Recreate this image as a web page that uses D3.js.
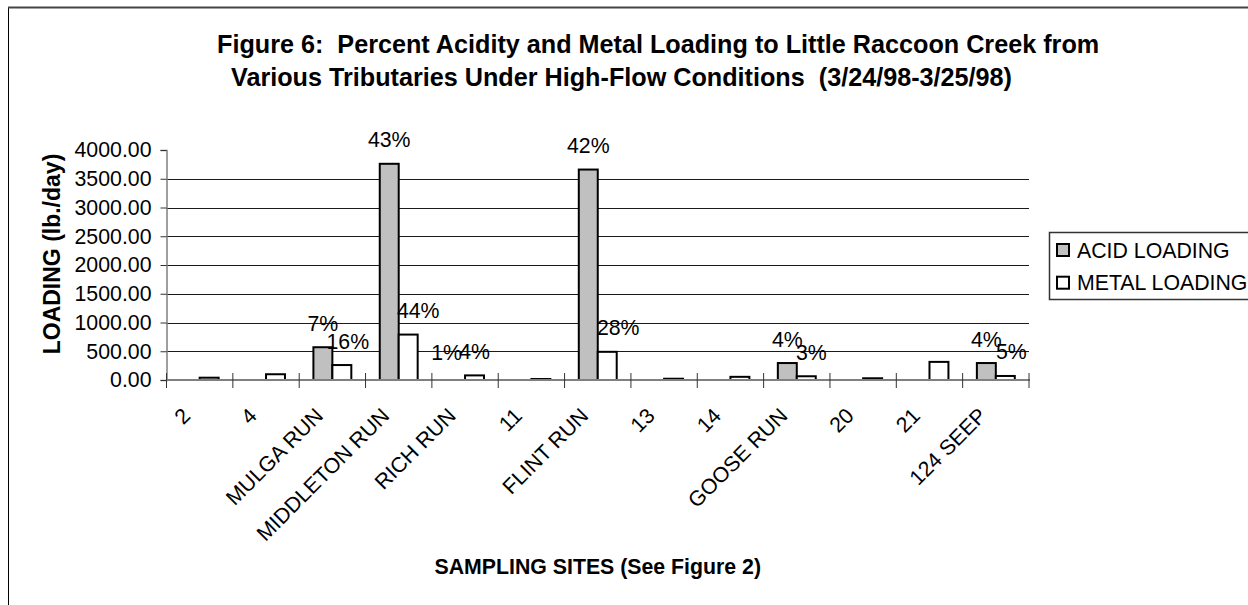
<!DOCTYPE html>
<html>
<head>
<meta charset="utf-8">
<script src="https://cdn.jsdelivr.net/npm/d3@7"></script>
<style>
  html, body { margin: 0; padding: 0; background: #fff; }
  svg { display: block; font-family: "Liberation Sans", Arial, Helvetica, sans-serif; }
  text { white-space: pre; }
</style>
</head>
<body>
<svg id="chart" width="1248" height="605"></svg>
<script>
// Sampling sites along Little Raccoon Creek
const sites = ["2", "4", "MULGA RUN", "MIDDLETON RUN", "RICH RUN", "11", "FLINT RUN",
               "13", "14", "GOOSE RUN", "20", "21", "124 SEEP"];

// Loading in lb./day for each site
const acidLoading  = [0, 0, 570, 3760, 0, 0, 3660, 0, 0, 295, 0, 0, 295];
const metalLoading = [40, 100, 260, 790, 80, 17, 490, 22, 55, 65, 30, 315, 70];

// Percent of total loading, printed above the bars (null = no label)
const acidPercent  = [null, null, "7%", "43%", "1%", null, "42%", null, null, "4%", null, null, "4%"];
const metalPercent = [null, null, "16%", "44%", "4%", null, "28%", null, null, "3%", null, null, "5%"];

const seriesNames = ["ACID LOADING", "METAL LOADING"];
const yTicks = [0, 500, 1000, 1500, 2000, 2500, 3000, 3500, 4000];

const titleLines = [
  "Figure 6:  Percent Acidity and Metal Loading to Little Raccoon Creek from",
  "Various Tributaries Under High-Flow Conditions  (3/24/98-3/25/98)"
];
const yTitle = "LOADING (lb./day)";
const xTitle = "SAMPLING SITES (See Figure 2)";

// ---- layout ----
const plot = { left: 166.5, right: 1029, top: 150, bottom: 380 };
const fills = { acid: "#c0c0c0", metal: "#ffffff" };
const series = ["acid", "metal"];
const fontSize = 21.3;
// hand-placed horizontal shifts of some percent labels (px)
const labelShift = { "MULGA RUN|metal": 6, "MIDDLETON RUN|metal": 10, "RICH RUN|acid": -9,
                     "FLINT RUN|metal": 11, "GOOSE RUN|metal": 5, "124 SEEP|metal": 6 };

const svg = d3.select("#chart");

// chart area frame
svg.append("rect")
  .attr("x", 8.5).attr("y", 7.5)
  .attr("width", 1400).attr("height", 800)
  .attr("fill", "#fff").attr("stroke", "#000").attr("stroke-width", 1);
svg.append("line")
  .attr("x1", 8).attr("x2", 1248).attr("y1", 7.5).attr("y2", 7.5)
  .attr("stroke", "#444").attr("stroke-width", 2);

// title
const titleX = [217, 231];
const titleY = [53, 86];
titleLines.forEach((t, i) => {
  svg.append("text")
    .attr("x", titleX[i]).attr("y", titleY[i])
    .attr("font-size", 25.2).attr("font-weight", "bold")
    .attr("fill", "#000")
    .text(t);
});

const x = d3.scaleBand().domain(sites).range([plot.left, plot.right]).paddingInner(0).paddingOuter(0);
const xs = d3.scaleBand().domain(series).range([0, x.bandwidth()]).paddingInner(0).paddingOuter(0.75);
const y = d3.scaleLinear().domain([0, 4000]).range([plot.bottom, plot.top]);

// horizontal gridlines
svg.append("g")
  .selectAll("line")
  .data(yTicks.filter(v => v > 0 && v < 4000))
  .join("line")
  .attr("x1", plot.left).attr("x2", plot.right)
  .attr("y1", d => Math.round(y(d)) + 0.5).attr("y2", d => Math.round(y(d)) + 0.5)
  .attr("stroke", "#1a1a1a").attr("stroke-width", 1);

// y axis
const yAxis = svg.append("g")
  .attr("transform", `translate(${plot.left},0)`)
  .call(d3.axisLeft(y).tickValues(yTicks).tickFormat(d3.format(".2f")).tickSize(6).tickPadding(9));
yAxis.select(".domain").attr("stroke", "#808080").attr("stroke-width", 1.5);
yAxis.selectAll(".tick line").attr("stroke", "#333");
yAxis.selectAll(".tick text")
  .attr("font-size", fontSize).attr("font-family", "Liberation Sans, Arial, sans-serif").attr("fill", "#000");

// bars
const rows = sites.map((s, i) => ({ site: s, acid: acidLoading[i], metal: metalLoading[i],
                                    acidPct: acidPercent[i], metalPct: metalPercent[i] }));
const barData = [];
rows.forEach(r => series.forEach(k => {
  if (r[k] > 0) barData.push({ site: r.site, key: k, value: r[k] });
}));

svg.append("g")
  .selectAll("rect")
  .data(barData)
  .join("rect")
  .attr("x", d => x(d.site) + xs(d.key))
  .attr("width", xs.bandwidth())
  .attr("y", d => y(d.value))
  .attr("height", d => y(0) - y(d.value))
  .attr("fill", d => fills[d.key])
  .attr("stroke", "#000")
  .attr("stroke-width", 2);

// x axis line and cross ticks
svg.append("line")
  .attr("x1", plot.left).attr("x2", plot.right + 1)
  .attr("y1", y(0)).attr("y2", y(0))
  .attr("stroke", "#808080").attr("stroke-width", 2);
svg.append("g")
  .selectAll("line")
  .data(d3.range(sites.length + 1))
  .join("line")
  .attr("x1", i => plot.left + i * x.step()).attr("x2", i => plot.left + i * x.step())
  .attr("y1", y(0) - 7).attr("y2", y(0) + 8)
  .attr("stroke", "#333").attr("stroke-width", 1);

// rotated category labels
svg.append("g")
  .selectAll("text")
  .data(sites)
  .join("text")
  .attr("transform", d => `translate(${x(d) + x.bandwidth() / 2 - 8},${y(0) + 37}) rotate(-45)`)
  .attr("text-anchor", "end")
  .attr("font-size", fontSize)
  .attr("fill", "#000")
  .text(d => d);

// percent labels above bars
const pctData = [];
rows.forEach(r => {
  if (r.acidPct) pctData.push({ site: r.site, key: "acid", value: r.acid, label: r.acidPct });
  if (r.metalPct) pctData.push({ site: r.site, key: "metal", value: r.metal, label: r.metalPct });
});
svg.append("g")
  .selectAll("text")
  .data(pctData)
  .join("text")
  .attr("x", d => x(d.site) + xs(d.key) + xs.bandwidth() / 2 + (labelShift[d.site + "|" + d.key] || 0))
  .attr("y", d => Math.min(y(d.value) - 16.5, 360))
  .attr("text-anchor", "middle")
  .attr("font-size", fontSize)
  .attr("fill", "#000")
  .text(d => d.label);

// axis titles
svg.append("text")
  .attr("transform", `translate(60,254) rotate(-90)`)
  .attr("text-anchor", "middle")
  .attr("font-size", 23).attr("font-weight", "bold")
  .text(yTitle);
svg.append("text")
  .attr("x", (plot.left + plot.right) / 2).attr("y", 574)
  .attr("text-anchor", "middle")
  .attr("font-size", 21.3).attr("font-weight", "bold")
  .text(xTitle);

// legend
const legend = svg.append("g");
legend.append("rect")
  .attr("x", 1049.5).attr("y", 232.5).attr("width", 300).attr("height", 67)
  .attr("fill", "#fff").attr("stroke", "#333").attr("stroke-width", 1.5);
series.forEach((k, i) => {
  const cy = 250 + i * 32.7;
  legend.append("rect")
    .attr("x", 1057).attr("y", cy - 6).attr("width", 12).attr("height", 12)
    .attr("fill", fills[k]).attr("stroke", "#000").attr("stroke-width", 2);
  legend.append("text")
    .attr("x", 1077).attr("y", cy + 7.5)
    .attr("font-size", fontSize)
    .text(seriesNames[i]);
});
</script>
</body>
</html>
